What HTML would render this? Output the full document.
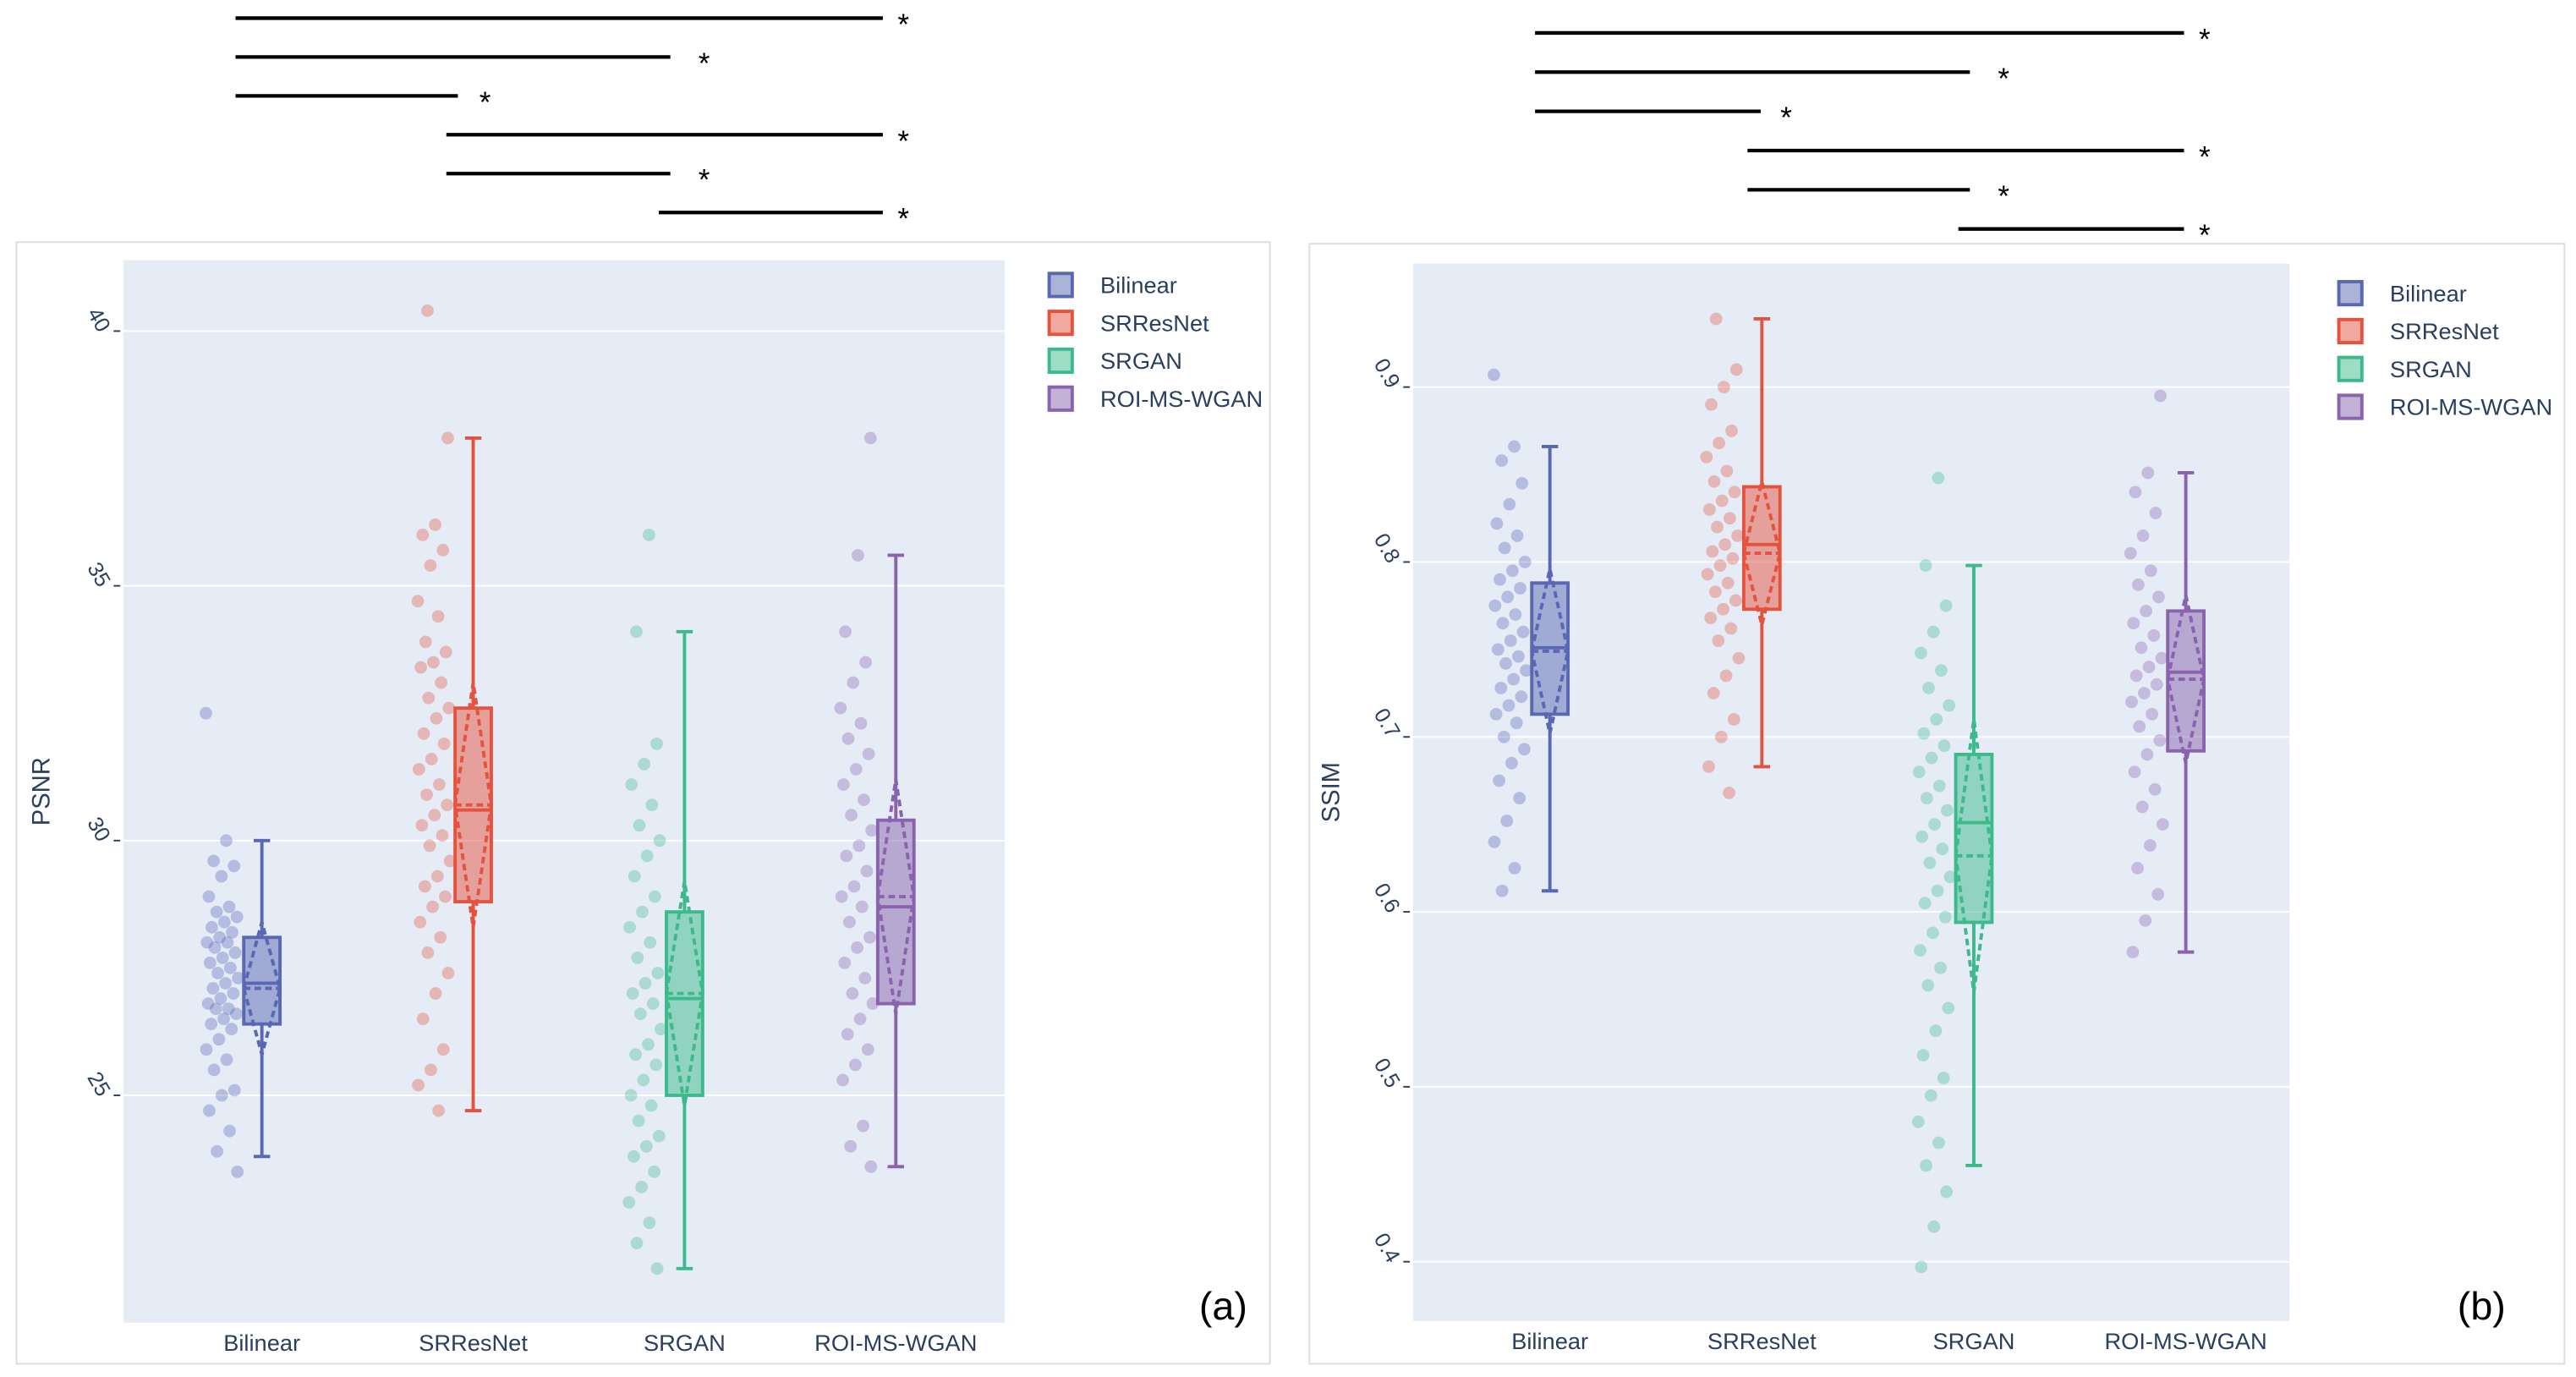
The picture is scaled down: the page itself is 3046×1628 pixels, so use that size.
<!DOCTYPE html>
<html><head><meta charset="utf-8"><style>
html,body{margin:0;padding:0;background:#fff}
svg{display:block}
text{font-family:"Liberation Sans",sans-serif}
</style></head><body>
<svg id="root" width="3046" height="1628" viewBox="0 0 1564 836" preserveAspectRatio="none">
<g id="sig"></g>
<rect x="10" y="147" width="761" height="681" fill="#fff" stroke="#ddd" stroke-width="1"/>
<rect x="795" y="148" width="762" height="680" fill="#fff" stroke="#ddd" stroke-width="1"/>
<g id="chartA"></g>
<g id="chartB"></g>
<text x="728" y="801" font-size="24" fill="#000">(a)</text>
<text x="1492" y="801" font-size="24" fill="#000">(b)</text>
</svg>
<script>
const categories=["Bilinear","SRResNet","SRGAN","ROI-MS-WGAN"];
const colors=["#5a68b4","#e5533f","#3cba8c","#8a63ae"];
const psnrTicks=[25,30,35,40];
const psnrQ1=[26.4,28.8,25.0,26.8];
const psnrMedian=[27.2,30.6,26.9,28.7];
const psnrQ3=[28.1,32.6,28.6,30.4];
const psnrLow=[23.8,24.7,21.6,23.6];
const psnrHigh=[30.0,37.9,34.1,35.6];
const psnrMean=[27.1,30.7,27.0,28.9];
const psnrSD=[1.3,2.4,2.2,2.3];
const psnrPoints=[
[32.5,30.0,29.6,29.5,29.3,28.9,28.7,28.6,28.5,28.4,28.3,28.2,28.1,28.0,28.0,27.9,27.8,27.7,27.6,27.5,27.4,27.3,27.2,27.1,27.0,26.9,26.8,26.7,26.7,26.6,26.5,26.4,26.3,26.1,25.9,25.7,25.5,25.1,25.0,24.7,24.3,23.9,23.5],
[40.4,37.9,36.2,36.0,35.7,35.4,34.7,34.4,33.9,33.7,33.5,33.4,33.1,32.8,32.6,32.4,32.1,31.9,31.6,31.4,31.1,30.9,30.7,30.5,30.3,30.1,29.9,29.6,29.3,29.1,28.9,28.7,28.4,28.1,27.8,27.4,27.0,26.5,25.9,25.5,25.2,24.7],
[36.0,34.1,31.9,31.5,31.1,30.7,30.3,30.0,29.7,29.3,28.9,28.6,28.3,28.0,27.7,27.4,27.2,27.0,26.8,26.6,26.3,26.0,25.8,25.6,25.3,25.0,24.8,24.5,24.2,24.0,23.8,23.5,23.2,22.9,22.5,22.1,21.6],
[37.9,35.6,34.1,33.5,33.1,32.6,32.3,32.0,31.7,31.4,31.1,30.8,30.5,30.2,29.9,29.7,29.4,29.1,28.9,28.7,28.4,28.1,27.9,27.6,27.3,27.0,26.8,26.5,26.2,25.9,25.6,25.3,24.4,24.0,23.6]];
const ssimTicks=[0.4,0.5,0.6,0.7,0.8,0.9];
const ssimQ1=[0.713,0.773,0.594,0.692];
const ssimMedian=[0.751,0.810,0.651,0.737];
const ssimQ3=[0.788,0.843,0.690,0.772];
const ssimLow=[0.612,0.683,0.455,0.577];
const ssimHigh=[0.866,0.939,0.798,0.851];
const ssimMean=[0.749,0.805,0.632,0.733];
const ssimSD=[0.047,0.041,0.078,0.048];
const ssimPoints=[
[0.907,0.866,0.858,0.845,0.833,0.822,0.815,0.808,0.800,0.795,0.790,0.785,0.780,0.775,0.770,0.765,0.760,0.755,0.750,0.746,0.742,0.738,0.733,0.728,0.723,0.718,0.713,0.708,0.700,0.693,0.685,0.675,0.665,0.652,0.640,0.625,0.612],
[0.939,0.910,0.900,0.890,0.875,0.868,0.860,0.852,0.846,0.840,0.835,0.830,0.825,0.820,0.815,0.810,0.806,0.802,0.798,0.793,0.788,0.783,0.778,0.773,0.768,0.762,0.755,0.745,0.735,0.725,0.710,0.700,0.683,0.668],
[0.848,0.798,0.775,0.760,0.748,0.738,0.728,0.718,0.710,0.702,0.695,0.688,0.680,0.672,0.665,0.658,0.650,0.643,0.636,0.628,0.620,0.612,0.605,0.597,0.588,0.578,0.568,0.558,0.545,0.532,0.518,0.505,0.495,0.480,0.468,0.455,0.440,0.420,0.397],
[0.895,0.851,0.840,0.828,0.815,0.805,0.795,0.787,0.780,0.772,0.765,0.758,0.751,0.745,0.740,0.735,0.730,0.725,0.720,0.713,0.706,0.698,0.690,0.680,0.670,0.660,0.650,0.638,0.625,0.610,0.595,0.577]];
const NS="http://www.w3.org/2000/svg";
function mk(parent,tag,attrs,txt){const e=document.createElementNS(NS,tag);for(const k in attrs)e.setAttribute(k,attrs[k]);if(txt!==undefined)e.textContent=txt;parent.appendChild(e);return e;}

const sigPairs=[[0,3],[0,2],[0,1],[1,3],[1,2],[2,3]];
function drawSig(x0s,starXs,y0,dy,ends){
  const g=document.getElementById('sig');
  sigPairs.forEach((p,i)=>{
    const y=y0+i*dy;
    const l=mk(g,'line',{x1:x0s[p[0]],x2:ends[p[1]],y1:y,y2:y,stroke:'#000','stroke-width':2.2});
    
    
    const t=mk(g,'text',{x:starXs[p[1]],y:y+10,'font-size':18,fill:'#000'},'*');
    
    
  });
}
drawSig([143,271,400],[0,291,424,545],11,23.6,[0,278,407,536]);
drawSig([932,1061,1189],[0,1081,1213,1335],20,23.8,[0,1069,1196,1326]);

function drawChart(gid,cfg){
  const g=document.getElementById(gid);
  const {px,py,pw,ph,vmin,vmax,ticks,q1,med,q3,lo,hi,mean,sd,pts,title,legX,legY,fmt,c0x,step}=cfg;
  const y=v=>py+ph-(v-vmin)/(vmax-vmin)*ph;
  const x=i=>c0x+step*i;
  const bg=mk(g,'rect',{x:px,y:py,width:pw,height:ph,fill:'#e5ecf6'});
  
  
  ticks.forEach(t=>{
    const yy=y(t);
    const gl=mk(g,'line',{x1:px,x2:px+pw,y1:yy,y2:yy,stroke:'#fff','stroke-width':1});
    
    
    mk(g,'line',{x1:px-6,x2:px-2,y1:yy,y2:yy,stroke:'#2a3f5f','stroke-width':1});
    const tl=mk(g,'text',{x:px-9,y:yy-3,'font-size':13,fill:'#2a3f5f','text-anchor':'end',transform:`rotate(60 ${px-16} ${yy-6})`},fmt(t));
    
    
  });
  const yt=mk(g,'text',{x:0,y:0,'font-size':15,fill:'#2a3f5f','text-anchor':'middle',transform:`translate(${px-45},${py+ph/2}) rotate(-90)`},title);
  
  
  categories.forEach((c,i)=>{
    const cx=x(i),c0=colors[i],bw=11;
    const xl=mk(g,'text',{x:cx,y:py+ph+17,'font-size':14,fill:'#2a3f5f','text-anchor':'middle'},c);
    
    
    pts[i].forEach((v,k)=>{
      const f=(k*0.6180339+0.31*i)%1;
      const off=f*20-10;
      const p=mk(g,'circle',{cx:cx-24+off,cy:y(v),r:3.8,fill:c0,'fill-opacity':0.35});
      
      
    });
    const wk=mk(g,'path',{d:`M${cx},${y(q3[i])} V${y(hi[i])} M${cx-5},${y(hi[i])} H${cx+5} M${cx},${y(q1[i])} V${y(lo[i])} M${cx-5},${y(lo[i])} H${cx+5}`,stroke:c0,'stroke-width':2,fill:'none'});
    
    
    const bx=mk(g,'rect',{x:cx-bw,y:y(q3[i]),width:bw*2,height:y(q1[i])-y(q3[i]),fill:c0,'fill-opacity':0.5,stroke:c0,'stroke-width':2});
    
    
    const md=mk(g,'line',{x1:cx-bw,x2:cx+bw,y1:y(med[i]),y2:y(med[i]),stroke:c0,'stroke-width':2});
    
    
    const ym=y(mean[i]),yt2=y(mean[i]+sd[i]),yb=y(mean[i]-sd[i]);
    const dm=mk(g,'path',{d:`M${cx-bw},${ym} L${cx},${yt2} L${cx+bw},${ym} L${cx},${yb} Z M${cx-bw},${ym} H${cx+bw}`,stroke:c0,'stroke-width':2,'stroke-dasharray':'4,2.5',fill:'none'});
    
    
    const ly=legY+i*23;
    const ls=mk(g,'rect',{x:legX,y:ly-7,width:14,height:14,fill:c0,'fill-opacity':0.5,stroke:c0,'stroke-width':2});
    
    
    const lt=mk(g,'text',{x:legX+31,y:ly+5,'font-size':14,fill:'#2a3f5f'},c);
    
    
  });
}
(()=>{const k=(665-201)/15;
drawChart('chartA',{px:75,py:158,pw:535,ph:645,vmax:40+(201-158)/k,vmin:25-(803-665)/k,ticks:psnrTicks,q1:psnrQ1,med:psnrMedian,q3:psnrQ3,lo:psnrLow,hi:psnrHigh,mean:psnrMean,sd:psnrSD,pts:psnrPoints,title:"PSNR",legX:637,legY:173,fmt:t=>String(t),c0x:159,step:128.3});})();
(()=>{const k=(766-235)/0.5;
drawChart('chartB',{px:858,py:160,pw:532,ph:642,vmax:0.9+(235-160)/k,vmin:0.4-(802-766)/k,ticks:ssimTicks,q1:ssimQ1,med:ssimMedian,q3:ssimQ3,lo:ssimLow,hi:ssimHigh,mean:ssimMean,sd:ssimSD,pts:ssimPoints,title:"SSIM",legX:1420,legY:178,fmt:t=>t.toFixed(1),c0x:941,step:128.7});})();
</script>
</body></html>
